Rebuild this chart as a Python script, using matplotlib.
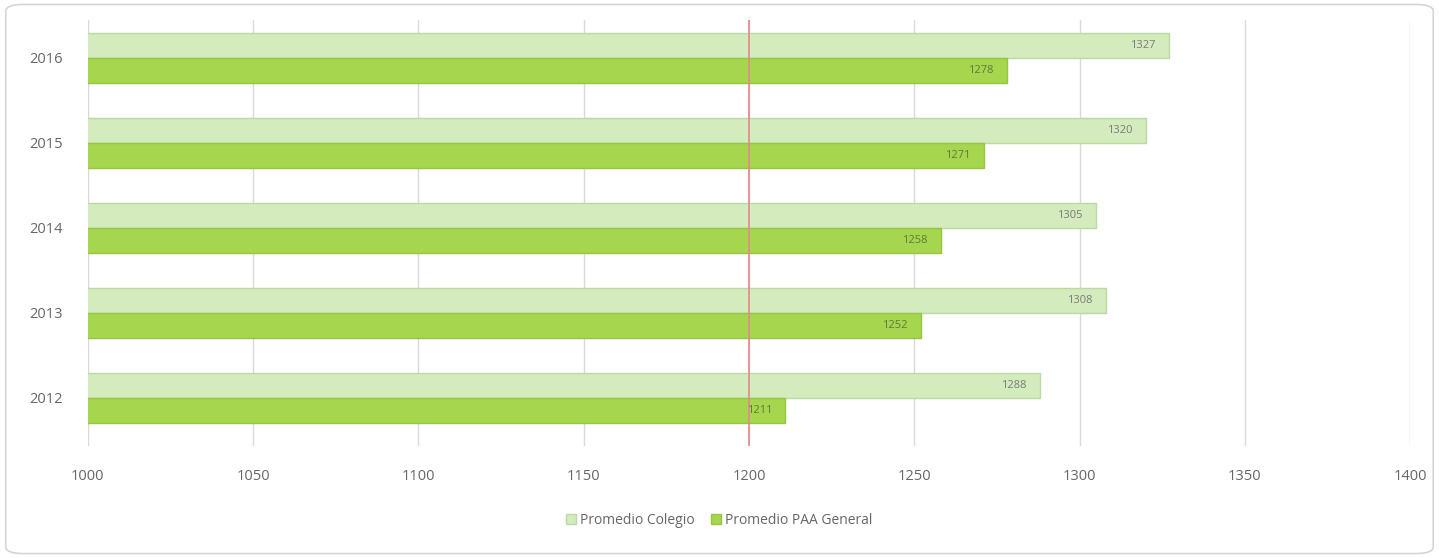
import matplotlib
matplotlib.use("Agg")
import matplotlib.pyplot as plt
from matplotlib.patches import FancyBboxPatch
import numpy as np

plt.rcParams['font.family'] = ['Open Sans', 'DejaVu Sans']

years = ["2012", "2013", "2014", "2015", "2016"]
colegio = [1288, 1308, 1305, 1320, 1327]
paa_general = [1211, 1252, 1258, 1271, 1278]
xticks = [1000, 1050, 1100, 1150, 1200, 1250, 1300, 1350, 1400]
ref_line = 1200

fig = plt.figure(figsize=(14.39, 5.58), dpi=100)
ax = fig.add_axes([0.061, 0.2, 0.919, 0.765])

y = np.arange(len(years))
h = 0.295
light_c = "#d3ebbd"
light_e = "#bcd9a3"
dark_c = "#a5d64e"
dark_e = "#96c544"

b1 = ax.barh(y + h / 2, colegio, height=h, left=0, color=light_c, edgecolor=light_e,
             linewidth=1, label="Promedio Colegio", zorder=3)
b2 = ax.barh(y - h / 2, paa_general, height=h, left=0, color=dark_c, edgecolor=dark_e,
             linewidth=1, label="Promedio PAA General", zorder=3)

for yi, v in zip(y, colegio):
    ax.text(v - 4, yi + h / 2, str(v), ha="right", va="center", fontsize=8,
            color="#7a7a7a", zorder=5)
for yi, v in zip(y, paa_general):
    ax.text(v - 4, yi - h / 2, str(v), ha="right", va="center", fontsize=8,
            color="#5f7a3a", zorder=5)

ax.axvline(ref_line, color="#e08a8a", linewidth=1.2, zorder=4)

ax.set_xlim(1000, 1400)
ax.set_ylim(-0.57, 4.45)
ax.set_xticks(xticks)
ax.set_xticklabels([str(t) for t in xticks])
ax.set_yticks(y)
ax.set_yticklabels(years)
ax.tick_params(axis="both", length=0, labelsize=10.5, colors="#666666")
ax.tick_params(axis="x", pad=16)
ax.tick_params(axis="y", pad=18)
ax.grid(axis="x", color="#d9d9d9", linewidth=1, zorder=0)
for s in ax.spines.values():
    s.set_visible(False)

leg = fig.legend(handles=[b1, b2], loc="center", bbox_to_anchor=(0.5, 0.068), ncol=2,
                 frameon=False, fontsize=10, handlelength=0.7, handleheight=0.7,
                 handletextpad=0.3, columnspacing=1.2, labelcolor="#666666")

border = FancyBboxPatch((0.004, 0.008), 0.992, 0.984, boxstyle="round,pad=0,rounding_size=0.012",
                        transform=fig.transFigure, fill=False, edgecolor="#d5d5d5", linewidth=1.2)
fig.patches.append(border)

fig.savefig("out.png", dpi=100)
